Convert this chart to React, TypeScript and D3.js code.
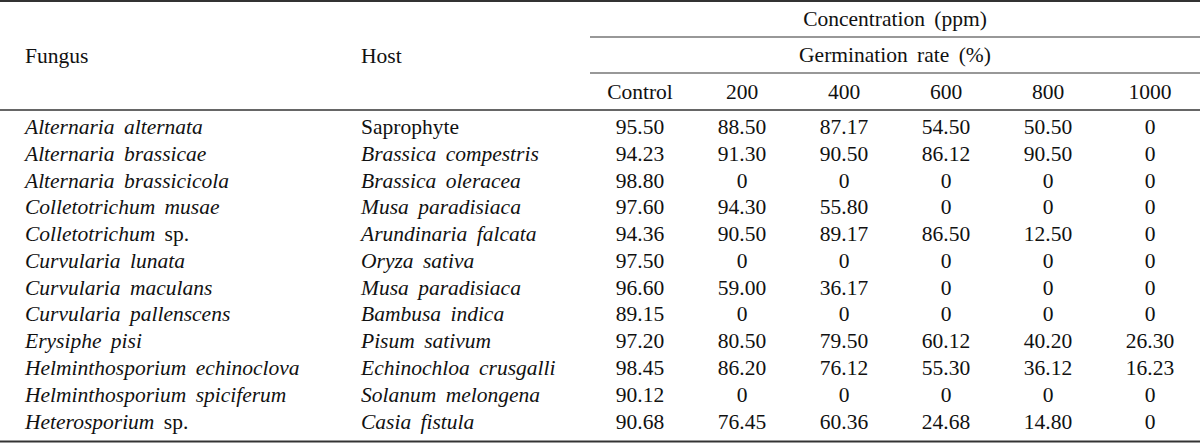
import * as React from "react";
import * as d3 from "d3";

const fungi = [
  "Alternaria alternata",
  "Alternaria brassicae",
  "Alternaria brassicicola",
  "Colletotrichum musae",
  "Colletotrichum sp.",
  "Curvularia lunata",
  "Curvularia maculans",
  "Curvularia pallenscens",
  "Erysiphe pisi",
  "Helminthosporium echinoclova",
  "Helminthosporium spiciferum",
  "Heterosporium sp.",
];

const hosts = [
  "Saprophyte",
  "Brassica compestris",
  "Brassica oleracea",
  "Musa paradisiaca",
  "Arundinaria falcata",
  "Oryza sativa",
  "Musa paradisiaca",
  "Bambusa indica",
  "Pisum sativum",
  "Echinochloa crusgalli",
  "Solanum melongena",
  "Casia fistula",
];

// hosts that are not set in italics
const romanHosts = ["Saprophyte"];

const concentrations = ["Control", "200", "400", "600", "800", "1000"];

const control = [95.5, 94.23, 98.8, 97.6, 94.36, 97.5, 96.6, 89.15, 97.2, 98.45, 90.12, 90.68];
const ppm200 = [88.5, 91.3, 0, 94.3, 90.5, 0, 59.0, 0, 80.5, 86.2, 0, 76.45];
const ppm400 = [87.17, 90.5, 0, 55.8, 89.17, 0, 36.17, 0, 79.5, 76.12, 0, 60.36];
const ppm600 = [54.5, 86.12, 0, 0, 86.5, 0, 0, 0, 60.12, 55.3, 0, 24.68];
const ppm800 = [50.5, 90.5, 0, 0, 12.5, 0, 0, 0, 40.2, 36.12, 0, 14.8];
const ppm1000 = [0, 0, 0, 0, 0, 0, 0, 0, 26.3, 16.23, 0, 0];

const series = [control, ppm200, ppm400, ppm600, ppm800, ppm1000];

const W = 1200;
const H = 444;
const FONT = '"Liberation Serif", "Times New Roman", Times, serif';
const FS = 21.5;

const fmt = d3.format(".2f");
const fmtVal = (v: number) => (v === 0 ? "0" : fmt(v));

function SciName({ x, y, name, italic }: { x: number; y: number; name: string; italic: boolean }) {
  if (!italic) {
    return (
      <text x={x} y={y}>
        {name}
      </text>
    );
  }
  const sp = name.endsWith(" sp.");
  const main = sp ? name.slice(0, -4) : name;
  return (
    <text x={x} y={y}>
      <tspan fontStyle="italic">{main}</tspan>
      {sp ? <tspan> sp.</tspan> : null}
    </text>
  );
}

function Table() {
  const x = d3.scalePoint<string>().domain(concentrations).range([640, 1150]);
  const y = d3
    .scalePoint<string>()
    .domain(d3.range(fungi.length).map(String))
    .range([127, 421.5]);
  const base = 7; // baseline offset from row centre

  return (
    <svg
      width={W}
      height={H}
      style={{
        position: "absolute",
        left: 0,
        top: 0,
        background: "#fff",
        fontFamily: FONT,
        fontSize: FS,
        wordSpacing: 4,
      }}
      fill="#111"
    >
      {/* rules */}
      <line x1={0} x2={W} y1={1} y2={1} stroke="#333" strokeWidth={2} />
      <line x1={590} x2={W} y1={37} y2={37} stroke="#333" strokeWidth={1.2} />
      <line x1={590} x2={W} y1={73} y2={73} stroke="#333" strokeWidth={1.2} />
      <line x1={0} x2={W} y1={110} y2={110} stroke="#333" strokeWidth={1.6} />
      <line x1={0} x2={W} y1={441.5} y2={441.5} stroke="#333" strokeWidth={2} />

      {/* header */}
      <text x={25} y={56 + base}>Fungus</text>
      <text x={361} y={56 + base}>Host</text>
      <text x={895} y={19 + base} textAnchor="middle">Concentration (ppm)</text>
      <text x={895} y={55 + base} textAnchor="middle">Germination rate (%)</text>
      {concentrations.map((c) => (
        <text key={c} x={x(c)} y={92 + base} textAnchor="middle">
          {c}
        </text>
      ))}

      {/* body */}
      {fungi.map((f, i) => {
        const cy = y(String(i)) as number;
        return (
          <g key={i}>
            <SciName x={25} y={cy + base} name={f} italic={true} />
            <SciName x={361} y={cy + base} name={hosts[i]} italic={!romanHosts.includes(hosts[i])} />
            {series.map((s, j) => (
              <text key={j} x={x(concentrations[j])} y={cy + base} textAnchor="middle">
                {fmtVal(s[i])}
              </text>
            ))}
          </g>
        );
      })}
    </svg>
  );
}

export default function App() {
  return <Table />;
}
